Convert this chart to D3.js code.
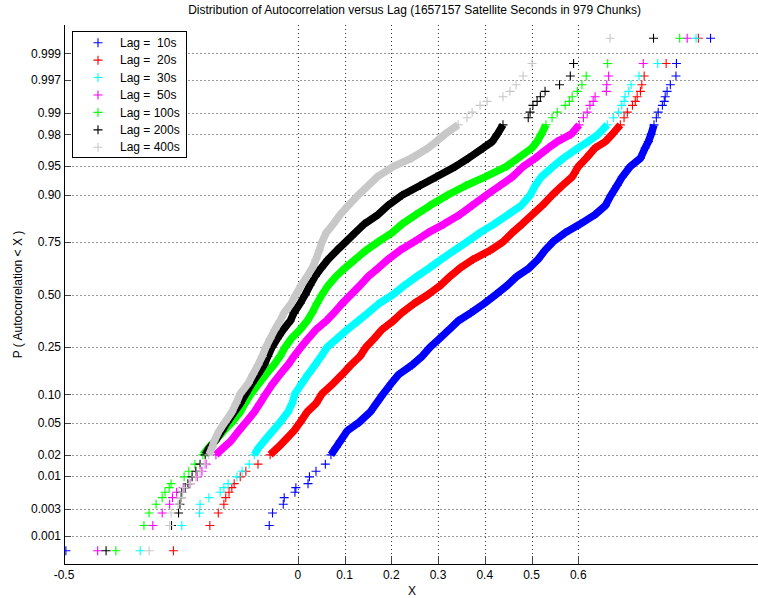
<!DOCTYPE html>
<html><head><meta charset="utf-8">
<script src="https://cdn.jsdelivr.net/npm/d3@7"></script>
<style>
body{margin:0;background:#fff}
svg{display:block}
text{font-family:"Liberation Sans",Arial,Helvetica,sans-serif;fill:#000}
</style>
</head><body>
<svg id="c" width="758" height="598"></svg>
<script>
// Plotting-position probabilities of the shown order statistics (979 chunks)
const probs = [0.00051,0.00153,0.00255,0.00358,0.00460,0.00562,0.00664,0.00766,0.00970,0.01175,
  0.01481,0.01992,0.02503,0.03013,0.04035,0.05056,0.06588,0.08121,0.10163,0.12717,
  0.15271,0.18335,0.21399,0.24974,0.28550,0.32635,0.36721,0.40807,0.45404,0.50000,
  0.54596,0.59193,0.63279,0.67365,0.71450,0.75026,0.78601,0.81665,0.84729,0.87283,
  0.89837,0.91880,0.93412,0.94944,0.95965,0.96987,0.97497,0.98008,0.98519,0.98825,
  0.99030,0.99234,0.99336,0.99438,0.99540,0.99642,0.99745,0.99847,0.99949];

const lag10 = [-0.496,-0.061,-0.054,-0.031,-0.029,-0.006,-0.004,0.022,0.025,0.039,
  0.059,0.071,0.082,0.091,0.106,0.131,0.155,0.168,0.183,0.200,
  0.216,0.245,0.266,0.283,0.303,0.324,0.343,0.371,0.399,0.424,
  0.448,0.469,0.495,0.514,0.529,0.546,0.572,0.604,0.636,0.658,
  0.670,0.683,0.694,0.711,0.733,0.743,0.750,0.756,0.762,0.767,
  0.771,0.780,0.784,0.786,0.790,0.797,0.809,0.810,0.883];
const lag20 = [-0.266,-0.188,-0.170,-0.158,-0.154,-0.147,-0.141,-0.136,-0.123,-0.111,
  -0.085,-0.059,-0.042,-0.029,-0.008,0.005,0.020,0.039,0.052,0.076,
  0.095,0.114,0.133,0.146,0.163,0.180,0.204,0.223,0.249,0.279,
  0.305,0.326,0.347,0.375,0.412,0.439,0.459,0.480,0.502,0.523,
  0.544,0.566,0.587,0.600,0.617,0.636,0.658,0.673,0.690,0.698,
  0.705,0.716,0.722,0.726,0.733,0.736,0.741,0.788,0.857];
const lag30 = [-0.337,-0.248,-0.210,-0.209,-0.190,-0.166,-0.158,-0.149,-0.130,-0.119,
  -0.104,-0.093,-0.083,-0.072,-0.053,-0.038,-0.021,-0.012,-0.006,0.009,
  0.022,0.037,0.050,0.063,0.084,0.106,0.129,0.151,0.174,0.204,
  0.228,0.255,0.281,0.307,0.335,0.362,0.390,0.420,0.450,0.478,
  0.497,0.508,0.521,0.546,0.568,0.600,0.621,0.643,0.662,0.675,
  0.686,0.693,0.698,0.700,0.708,0.713,0.730,0.770,0.852];
const lag50 = [-0.428,-0.310,-0.290,-0.274,-0.268,-0.259,-0.245,-0.230,-0.215,-0.205,
  -0.196,-0.175,-0.158,-0.143,-0.126,-0.111,-0.093,-0.081,-0.068,-0.053,
  -0.038,-0.021,-0.008,0.007,0.022,0.039,0.061,0.078,0.095,0.114,
  0.133,0.151,0.172,0.193,0.219,0.249,0.279,0.313,0.347,0.373,
  0.403,0.433,0.459,0.482,0.508,0.536,0.555,0.585,0.602,0.611,
  0.619,0.625,0.632,0.636,0.660,0.661,0.665,0.739,0.833];
const lag100 = [-0.389,-0.329,-0.318,-0.303,-0.290,-0.284,-0.275,-0.271,-0.243,-0.233,
  -0.220,-0.203,-0.190,-0.177,-0.158,-0.141,-0.123,-0.113,-0.100,-0.083,
  -0.068,-0.051,-0.038,-0.027,-0.014,0.005,0.020,0.031,0.041,0.052,
  0.065,0.082,0.101,0.123,0.146,0.172,0.202,0.223,0.253,0.283,
  0.320,0.360,0.401,0.446,0.471,0.501,0.512,0.521,0.531,0.544,
  0.555,0.572,0.581,0.587,0.598,0.608,0.617,0.663,0.817];
const lag200 = [-0.410,-0.270,-0.255,-0.252,-0.250,-0.248,-0.241,-0.235,-0.226,-0.218,
  -0.209,-0.198,-0.188,-0.177,-0.162,-0.151,-0.136,-0.123,-0.111,-0.098,
  -0.085,-0.072,-0.064,-0.055,-0.044,-0.031,-0.016,-0.008,0.005,0.016,
  0.026,0.037,0.050,0.065,0.084,0.103,0.123,0.142,0.172,0.193,
  0.223,0.262,0.296,0.337,0.365,0.397,0.416,0.427,0.439,0.493,
  0.497,0.503,0.512,0.519,0.529,0.560,0.583,0.590,0.761];
const lag400 = [-0.318,-0.274,-0.271,-0.256,-0.250,-0.246,-0.243,-0.230,-0.218,-0.209,
  -0.200,-0.190,-0.183,-0.179,-0.168,-0.156,-0.141,-0.132,-0.123,-0.106,
  -0.096,-0.085,-0.076,-0.068,-0.059,-0.049,-0.038,-0.029,-0.014,-0.004,
  0.007,0.020,0.031,0.039,0.046,0.052,0.061,0.076,0.091,0.108,
  0.129,0.151,0.170,0.204,0.243,0.279,0.296,0.315,0.343,0.362,
  0.373,0.390,0.405,0.439,0.454,0.467,0.482,0.501,0.668];

const seriesNames = ["Lag =  10s","Lag =  20s","Lag =  30s","Lag =  50s","Lag = 100s","Lag = 200s","Lag = 400s"];
const seriesColors = ["#0000ff","#ff0000","#00ffff","#ff00ff","#00ff00","#000000","#c8c8c8"];
const seriesValues = [lag10, lag20, lag30, lag50, lag100, lag200, lag400];

const xTicks = [-0.5,0,0.1,0.2,0.3,0.4,0.5,0.6];
const xTickLabels = ["-0.5","0","0.1","0.2","0.3","0.4","0.5","0.6"];
const xGrid = [0,0.1,0.2,0.3,0.4,0.5,0.6];
const yTicks = [0.001,0.003,0.01,0.02,0.05,0.10,0.25,0.50,0.75,0.90,0.95,0.98,0.99,0.997,0.999];
const yTickLabels = ["0.001","0.003","0.01","0.02","0.05","0.10","0.25","0.50","0.75","0.90","0.95","0.98","0.99","0.997","0.999"];

const titleText = "Distribution of Autocorrelation versus Lag (1657157 Satellite Seconds in 979 Chunks)";
const xLabel = "X";
const yLabel = "P ( Autocorrelation < X )";

// inverse standard normal CDF (probability-paper transform)
function norminv(p){
  const a=[-3.969683028665376e+01,2.209460984245205e+02,-2.759285104469687e+02,1.383577518672690e+02,-3.066479806614716e+01,2.506628277459239e+00];
  const b=[-5.447609879822406e+01,1.615858368580409e+02,-1.556989798598866e+02,6.680131188771972e+01,-1.328068155288572e+01];
  const c=[-7.784894002430293e-03,-3.223964580411365e-01,-2.400758277161838e+00,-2.549732539343734e+00,4.374664141464968e+00,2.938163982698783e+00];
  const d=[7.784695709041462e-03,3.224671290700398e-01,2.445134137142996e+00,3.754408661907416e+00];
  const pl=0.02425, ph=1-pl; let q, r;
  if(p<pl){q=Math.sqrt(-2*Math.log(p));return (((((c[0]*q+c[1])*q+c[2])*q+c[3])*q+c[4])*q+c[5])/((((d[0]*q+d[1])*q+d[2])*q+d[3])*q+1);}
  if(p>ph){q=Math.sqrt(-2*Math.log(1-p));return -(((((c[0]*q+c[1])*q+c[2])*q+c[3])*q+c[4])*q+c[5])/((((d[0]*q+d[1])*q+d[2])*q+d[3])*q+1);}
  q=p-0.5; r=q*q;
  return (((((a[0]*r+a[1])*r+a[2])*r+a[3])*r+a[4])*r+a[5])*q/(((((b[0]*r+b[1])*r+b[2])*r+b[3])*r+b[4])*r+1);
}

const L = 64, R = 765.25, T = 25, B = 564;
const x = d3.scaleLinear().domain([-0.5, 1.0]).range([L, R]);
const yz = d3.scaleLinear().domain([-3.455, 3.455]).range([B, T]);
const y = p => yz(norminv(p));

const svg = d3.select("#c");
svg.append("rect").attr("width",758).attr("height",598).attr("fill","#fff");

svg.append("defs").append("clipPath").attr("id","clip")
  .append("rect").attr("x",L).attr("y",T-10).attr("width",R-L).attr("height",B-T+10);

// grid
const grid = svg.append("g").attr("stroke","#333").attr("stroke-width",1).attr("stroke-dasharray","1,3");
grid.selectAll("line.v").data(xGrid).join("line")
  .attr("x1",d=>Math.round(x(d))+0.5).attr("x2",d=>Math.round(x(d))+0.5)
  .attr("y1",T).attr("y2",B);
grid.selectAll("line.h").data(yTicks).join("line")
  .attr("x1",L+0.5).attr("x2",R)
  .attr("y1",d=>Math.round(y(d))+0.5).attr("y2",d=>Math.round(y(d))+0.5);

// ticks
const tk = svg.append("g").attr("stroke","#444").attr("stroke-width",1);
tk.selectAll("line.xt").data(xTicks).join("line")
  .attr("x1",d=>Math.round(x(d))+0.5).attr("x2",d=>Math.round(x(d))+0.5)
  .attr("y1",B).attr("y2",B-8);
tk.selectAll("line.yt").data(yTicks).join("line")
  .attr("x1",L).attr("x2",L+7)
  .attr("y1",d=>Math.round(y(d))+0.5).attr("y2",d=>Math.round(y(d))+0.5);

// axis lines
svg.append("line").attr("x1",L+0.5).attr("x2",L+0.5).attr("y1",T).attr("y2",B+0.5).attr("stroke","#000");
svg.append("line").attr("x1",L).attr("x2",758).attr("y1",B+0.5).attr("y2",B+0.5).attr("stroke","#000");

// tick labels
svg.append("g").selectAll("text").data(xTicks).join("text")
  .attr("x",d=>x(d)).attr("y",579).attr("text-anchor","middle").attr("font-size",12)
  .text((d,i)=>xTickLabels[i]);
svg.append("g").selectAll("text").data(yTicks).join("text")
  .attr("x",61).attr("y",d=>y(d)).attr("dy","0.35em").attr("text-anchor","end").attr("font-size",12)
  .text((d,i)=>yTickLabels[i]);

// labels
svg.append("text").attr("x",(L+R)/2).attr("y",14).attr("text-anchor","middle").attr("font-size",12).text(titleText);
svg.append("text").attr("x",412).attr("y",595).attr("text-anchor","middle").attr("font-size",12).text(xLabel);
svg.append("text").attr("transform",`translate(22,${(T+B)/2}) rotate(-90)`).attr("text-anchor","middle").attr("font-size",12).text(yLabel);

// data
const plus = "M-4.5,0H4.5M0,-4.5V4.5";
const plot = svg.append("g").attr("clip-path","url(#clip)");
const bandLine = d3.line().x(d=>x(d[0])).y(d=>y(d[1]));
seriesValues.forEach((vals,si)=>{
  const pts = vals.map((v,i)=>[v, probs[i]]);
  const g = plot.append("g");
  g.append("path").datum(pts.slice(11,49)).attr("d",bandLine)
    .attr("fill","none").attr("stroke",seriesColors[si]).attr("stroke-width",7.5)
    .attr("stroke-linejoin","round").attr("stroke-linecap","butt");
  g.selectAll("path.m").data(pts).join("path").attr("class","m")
    .attr("d",plus).attr("transform",d=>`translate(${x(d[0])},${y(d[1])})`)
    .attr("stroke",seriesColors[si]).attr("stroke-width",1.1).attr("fill","none");
});

// legend
const lg = svg.append("g");
lg.append("rect").attr("x",72.5).attr("y",31.5).attr("width",114).attr("height",126)
  .attr("fill","#fff").attr("stroke","#000");
seriesNames.forEach((nm,i)=>{
  const cy = 42.7 + i*17.43;
  lg.append("path").attr("d",plus).attr("transform",`translate(98,${cy})`)
    .attr("stroke",seriesColors[i]).attr("stroke-width",1.1).attr("fill","none");
  lg.append("text").attr("x",120).attr("y",cy).attr("dy","0.35em").attr("font-size",12)
    .attr("xml:space","preserve").style("white-space","pre").text(nm);
});
</script>
</body></html>
